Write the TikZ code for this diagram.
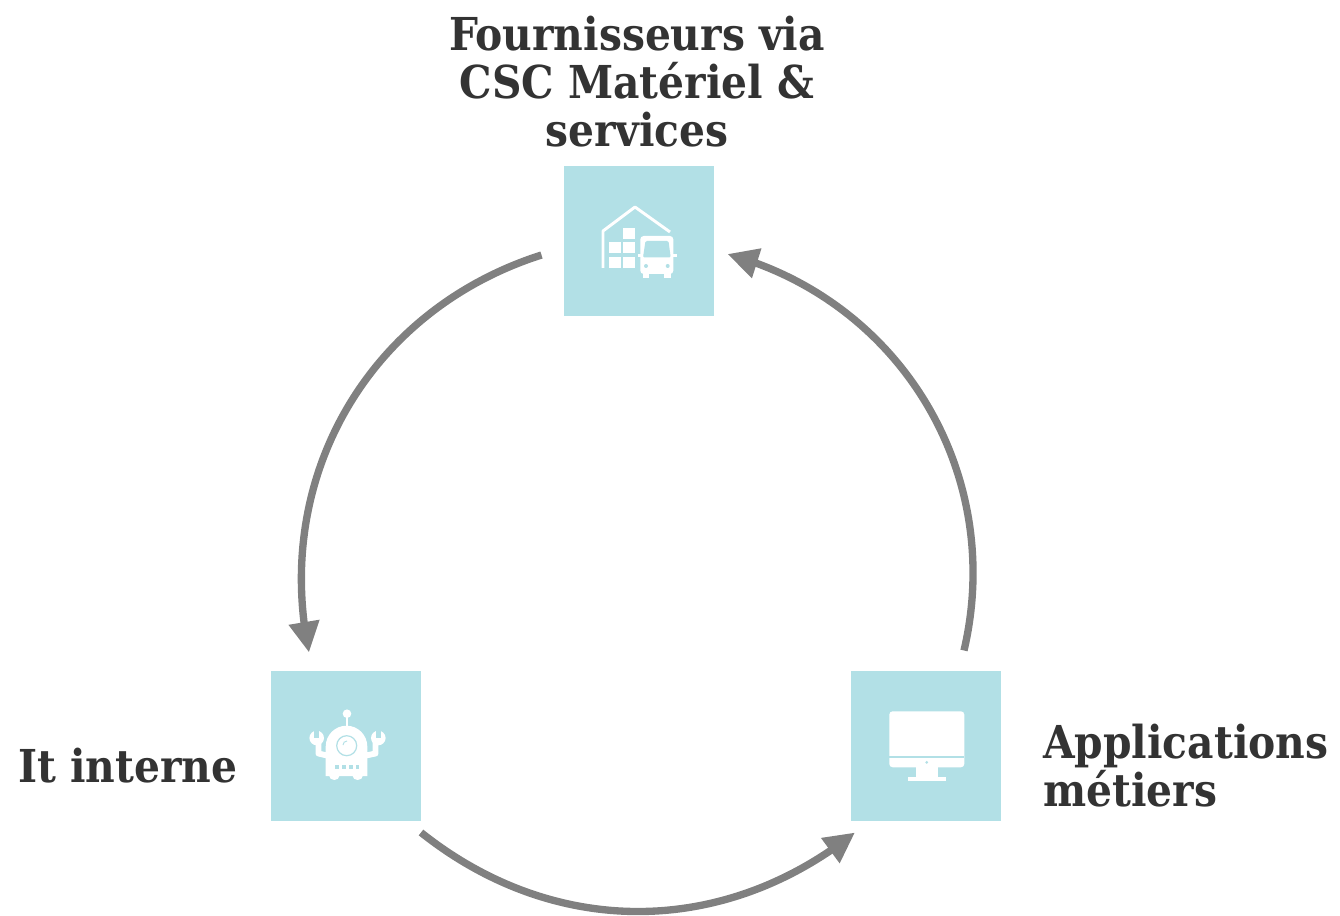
\documentclass[tikz,border=0pt]{standalone}
\usepackage{fontspec}
\setmainfont{DejaVu Serif Condensed}
\usepackage{tikz}
\usetikzlibrary{arrows.meta,bending}
\definecolor{boxblue}{HTML}{B2E0E6}
\definecolor{arcgray}{HTML}{808080}
\definecolor{labelgray}{HTML}{333333}
\tikzset{
  squarebox/.style={fill=boxblue,minimum size=112.5pt,inner sep=0pt,outer sep=0pt},
  labeltext/.style={text=labelgray,inner sep=0.75pt,align=center,font=\fontsize{34}{36}\selectfont\bfseries},
  cyclearc/.style={draw=arcgray,line width=5.5pt,-{Triangle[length=23pt,width=22pt,flex=1]}},
  iconline/.style={draw=white,line width=2.2pt},
  iconfill/.style={fill=white}
}
\begin{document}
\begin{tikzpicture}[x=0.75pt,y=0.75pt,yscale=-1,xscale=1]
\useasboundingbox (0,0) rectangle (1340,916);

%Shape: Square [id:fournisseurs]
\draw (638.5,241) node (fournisseurs) [squarebox] {};
%Shape: Square [id:itinterne]
\draw (346,745.5) node (itinterne) [squarebox] {};
%Shape: Square [id:applications]
\draw (926,745.5) node (applications) [squarebox] {};

%Curve Lines [id:arcleft]
\draw [cyclearc] ([shift={(-22,14)}]fournisseurs.west) to [bend left=42] ([shift={(-37,-18)}]itinterne.north);
%Curve Lines [id:arcbottom]
\draw [cyclearc] ([shift={(0,12)}]itinterne.south east) to [bend left=38.5] ([shift={(4,12)}]applications.south west);
%Curve Lines [id:arcright]
\draw [cyclearc] ([shift={(38,-20)}]applications.north) to [bend left=44] ([shift={(14,13)}]fournisseurs.east);

%Shape: Warehouse icon
\draw [iconline,line join=round] (603,268) -- (603,231) -- (635,207) -- (670,232);
\foreach \bx/\by in {623.3/227.7,609/242.3,623.3/242.3,609/256.7,623.3/256.7}
  \fill [iconfill] (\bx,\by) rectangle ++(11.5,11);
\fill [iconfill,rounded corners=2.5pt] (640.3,236) rectangle (673.3,274);
\fill [iconfill] (642.7,272) rectangle (649.3,278.3);
\fill [iconfill] (664,272) rectangle (670.7,278.3);
\fill [iconfill] (637.5,254.5) rectangle (641,257.5);
\fill [iconfill] (673,254.5) rectangle (676.5,257.5);
\fill [boxblue,rounded corners=1pt] (645.5,241) -- (668.5,241) -- (670.7,257.5) -- (643,257.5) -- cycle;
\fill [boxblue] (646,266) circle [radius=2];
\fill [boxblue] (667.7,266) circle [radius=2];

%Shape: Robot icon
\fill [iconfill] (347,713.7) circle [radius=4.3];
\draw [iconline,line width=1.6pt] (347,717) -- (347,727);
\fill [iconfill] (334.3,776) ellipse [x radius=5,y radius=4];
\fill [iconfill] (357.7,776) ellipse [x radius=5,y radius=4];
\fill [iconfill] (325.7,776) -- (325.7,746.5) arc [start angle=180,end angle=360,radius=20.8] -- (367.3,776) -- cycle;
\draw [boxblue,line width=0.9pt] (346.7,745.7) circle [radius=10];
\draw [boxblue,line width=0.7pt] (343,745) arc [start angle=180,end angle=270,radius=4];
\foreach \dx in {336.7,343.7,351,357.3}
  \fill [boxblue] (\dx-1.8,765.2) rectangle ++(3.6,3.6);
%arms and wrench heads
\draw [iconline,line width=4.4pt,line join=round] (318.5,742) -- (318.5,753.5) -- (327,755.5);
\draw [iconline,line width=4.4pt,line join=round] (375.5,742) -- (375.5,753.5) -- (366,755.5);
\foreach \hx in {316.7,378.3}{
  \fill [iconfill] (\hx,738) circle [radius=7.3];
  \fill [boxblue] (\hx-2.4,729) rectangle (\hx+2.4,738);
}

%Shape: Monitor icon
\fill [iconfill,rounded corners=2.5pt] (889.3,711.3) rectangle (964.3,767.3);
\fill [boxblue] (889.3,756) rectangle (964.3,758);
\fill [boxblue] (926.7,762.3) circle [radius=1.5];
\fill [iconfill] (915.7,767) rectangle (937.7,777.5);
\fill [iconfill] (908,777.3) rectangle (945.7,780.7);

% Text Node
\draw (637,82) node (fournisseurslabel) [labeltext] {Fournisseurs via\\CSC Matériel \&\\services};
% Text Node
\draw (17,766) node (itlabel) [labeltext,anchor=west] {It interne};
% Text Node
\draw (1042,766) node (applicationslabel) [labeltext,anchor=west,align=left] {Applications\\métiers};
\end{tikzpicture}
\end{document}
